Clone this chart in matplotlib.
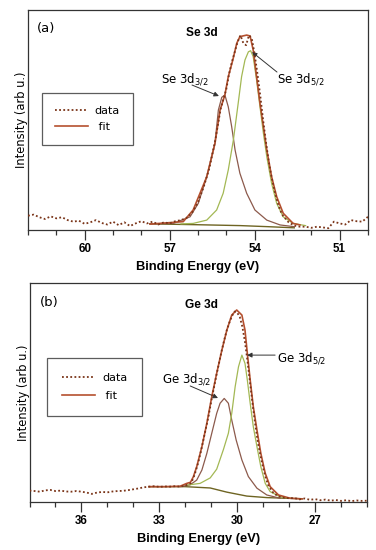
import numpy as np
import matplotlib
matplotlib.use('Agg')
import matplotlib.pyplot as plt
from matplotlib.ticker import MultipleLocator

# ---------------- panel (a) : Se 3d ----------------
se_data_x = [62.0, 61.8, 61.6, 61.4, 61.2, 61.0, 60.8, 60.6, 60.4, 60.2, 60.0, 59.8, 59.6, 59.4,
             59.2, 59.0, 58.8, 58.6, 58.4, 58.2, 58.0, 57.8, 57.6, 57.4, 57.2, 57.0, 56.8, 56.6,
             56.4, 56.2, 56.0, 55.8, 55.6, 55.4, 55.2, 55.0, 54.9, 54.8, 54.7, 54.6, 54.5, 54.4,
             54.3, 54.2, 54.1, 54.0, 53.9, 53.8, 53.7, 53.6, 53.5, 53.4, 53.3, 53.2, 53.1, 53.0,
             52.8, 52.6, 52.4, 52.2, 52.0, 51.8, 51.6, 51.4, 51.2, 51.0, 50.8, 50.6, 50.4, 50.2, 50.0]
se_data_y = [6.5, 7.0, 5.8, 5.0, 6.2, 5.3, 5.8, 4.5, 3.8, 4.2, 2.8, 3.5, 4.5, 3.2,
             2.5, 3.8, 2.2, 3.5, 1.8, 3.0, 4.0, 3.0, 3.8, 2.5, 3.5, 3.0, 4.0, 4.5,
             5.5, 8.0, 12.5, 19.5, 28.0, 40.0, 55.0, 64.0, 71.0, 76.5, 81.0, 85.5, 88.5, 85.0,
             84.0, 88.5, 87.0, 80.0, 71.0, 61.0, 50.0, 40.0, 31.0, 24.0, 18.0, 13.0, 9.0, 6.5,
             3.5, 2.0, 1.5, 1.5, 1.0, 1.5, 1.2, 0.8, 3.8, 3.0, 2.5, 4.5, 4.0, 3.8, 6.0]

se_fit_x = [57.69, 56.52, 56.17, 55.69, 55.40, 55.22, 55.05, 54.93, 54.77, 54.63, 54.52, 54.28,
            54.16, 54.05, 53.93, 53.81, 53.69, 53.57, 53.40, 53.22, 52.99, 52.64, 52.40]
se_fit_y = [2.7, 3.8, 9.1, 24.2, 39.4, 54.5, 61.4, 69.7, 77.3, 84.9, 87.9, 88.6,
            88.2, 81.8, 69.7, 57.6, 47.0, 36.4, 24.2, 15.1, 7.6, 3.0, 2.3]

se32_x = [57.7, 56.87, 56.28, 55.99, 55.69, 55.40, 55.28, 55.16, 55.05, 54.93, 54.81, 54.69,
          54.52, 54.28, 53.99, 53.57, 53.10, 52.6]
se32_y = [2.8, 3.0, 6.0, 12.1, 24.2, 39.4, 54.5, 60.3, 61.4, 56.0, 47.0, 36.4,
          25.8, 16.7, 9.1, 4.5, 2.3, 1.5]

se52_x = [56.6, 56.17, 55.69, 55.34, 55.11, 54.93, 54.75, 54.58, 54.46, 54.34, 54.22, 54.14,
          54.05, 53.93, 53.81, 53.69, 53.57, 53.40, 53.22, 52.99, 52.64, 52.2]
se52_y = [2.8, 3.0, 4.5, 9.1, 16.7, 27.3, 40.9, 57.6, 69.7, 77.3, 81.0, 81.5,
          78.8, 68.2, 56.0, 44.0, 33.3, 21.2, 12.1, 6.0, 3.0, 2.0]

se_bg_x = [57.7, 56.0, 54.5, 53.5, 52.6]
se_bg_y = [2.8, 2.4, 2.0, 1.5, 1.0]

# ---------------- panel (b) : Ge 3d ----------------
ge_data_x = [38.0, 37.8, 37.6, 37.4, 37.2, 37.0, 36.8, 36.6, 36.4, 36.2, 36.0, 35.8, 35.6, 35.4,
             35.2, 35.0, 34.8, 34.6, 34.4, 34.2, 34.0, 33.8, 33.6, 33.4, 33.2, 33.0, 32.8, 32.6,
             32.4, 32.2, 32.0, 31.8, 31.7, 31.6, 31.5, 31.4, 31.3, 31.2, 31.1, 31.0, 30.9, 30.8,
             30.7, 30.6, 30.5, 30.4, 30.3, 30.2, 30.1, 30.0, 29.9, 29.8, 29.7, 29.6, 29.5, 29.4,
             29.3, 29.2, 29.1, 29.0, 28.9, 28.8, 28.6, 28.4, 28.2, 28.0, 27.8, 27.6, 27.4, 27.2,
             27.0, 26.8, 26.6, 26.4, 26.2, 26.0, 25.8, 25.6, 25.4, 25.2, 25.0]
ge_data_y = [5.2, 5.0, 4.7, 5.3, 5.5, 5.0, 5.2, 4.8, 4.7, 5.0, 4.7, 4.3, 3.7, 4.3,
             4.6, 4.4, 4.8, 5.0, 5.1, 5.4, 5.8, 6.2, 6.7, 7.0, 7.2, 6.9, 7.1, 7.0,
             7.2, 7.0, 7.5, 8.5, 10.5, 14.0, 18.0, 23.0, 28.5, 34.0, 39.5, 46.0, 52.0, 58.0,
             63.5, 69.0, 74.0, 78.5, 82.0, 85.0, 87.0, 86.5, 84.5, 80.0, 73.0, 64.0, 54.0, 44.0,
             35.0, 27.0, 21.0, 15.5, 11.0, 7.5, 4.0, 2.5, 2.0, 1.7, 1.8, 1.2, 1.6, 1.0,
             1.3, 0.8, 1.1, 0.6, 0.9, 0.5, 0.8, 0.4, 0.7, 0.5, 0.6]

ge_fit_x = [33.4, 32.8, 32.2, 31.94, 31.8, 31.69, 31.56, 31.36, 31.17, 30.98, 30.79, 30.59,
            30.40, 30.21, 30.02, 29.82, 29.70, 29.61, 29.50, 29.38, 29.24, 29.09, 28.92, 28.73,
            28.41, 27.96, 27.5]
ge_fit_y = [7.0, 7.0, 7.2, 8.5, 9.0, 11.5, 16.1, 25.3, 35.9, 48.1, 58.8, 69.4,
            78.5, 85.4, 87.7, 85.4, 78.5, 67.9, 55.7, 43.5, 32.9, 22.2, 13.1, 7.0,
            3.2, 1.7, 1.4]

ge32_x = [32.2, 31.82, 31.56, 31.36, 31.17, 30.98, 30.79, 30.66, 30.50, 30.34, 30.21, 30.04,
          29.82, 29.57, 29.24, 28.86, 28.35]
ge32_y = [7.0, 7.8, 10.0, 14.6, 22.2, 31.4, 40.5, 45.1, 47.3, 45.1, 37.4, 28.3,
          19.2, 11.6, 6.3, 3.2, 1.7]

ge52_x = [31.94, 31.43, 31.04, 30.79, 30.53, 30.34, 30.21, 30.08, 29.95, 29.82, 29.70, 29.61,
          29.50, 29.38, 29.24, 29.09, 28.92, 28.73, 28.35, 27.96]
ge52_y = [7.7, 8.5, 11.0, 15.0, 24.0, 31.4, 40.5, 52.6, 61.8, 67.1, 63.3, 55.7,
          45.1, 34.4, 25.3, 16.1, 8.5, 4.7, 2.4, 1.7]

ge_bg_x = [33.4, 32.0, 31.04, 30.40, 29.63, 28.86, 28.09, 27.5]
ge_bg_y = [7.0, 7.0, 6.4, 4.5, 2.7, 2.0, 1.7, 1.5]

c_data = '#7a3418'
c_fit = '#b5502f'
c_32 = '#8c5a4c'
c_52 = '#a3b854'
c_bg = '#6e6422'

tickfont = 'Liberation Sans'

fig = plt.figure(figsize=(3.76, 5.5), dpi=100)
ax1 = fig.add_axes([0.0745, 0.5818, 0.904, 0.4])
ax2 = fig.add_axes([0.0785, 0.0873, 0.8976, 0.398])


def draw(ax, dx, dy, fx, fy, ax32, ay32, ax52, ay52, bx, by, xlim, legbox, lspace, bpad):
    ax.plot(bx, by, color=c_bg, lw=1.0)
    ax.plot(ax32, ay32, color=c_32, lw=0.9)
    ax.plot(ax52, ay52, color=c_52, lw=0.9)
    ax.plot(fx, fy, color=c_fit, lw=1.2, label=' fit', zorder=3)
    ax.plot(dx, dy, color=c_data, lw=1.3, linestyle=(0, (1, 1.3)), label='data', zorder=4)
    ax.set_xlim(xlim)
    ax.set_ylim(0, 100)
    ax.set_yticks([])
    ax.xaxis.set_major_locator(MultipleLocator(3))
    ax.xaxis.set_minor_locator(MultipleLocator(1))
    ax.tick_params(axis='x', which='major', length=7, width=0.9, pad=2.5, labelsize=8.3, color='#333333')
    ax.tick_params(axis='x', which='minor', length=3.6, width=0.9, color='#333333')
    for lab in ax.get_xticklabels():
        lab.set_fontweight('bold')
        lab.set_family(tickfont)
    for sp in ax.spines.values():
        sp.set_color('#333333')
        sp.set_linewidth(0.9)
    ax.set_xlabel('Binding Energy (eV)', fontsize=9.3, fontweight='bold', family=tickfont, labelpad=4)
    ax.set_ylabel('Intensity (arb u.)', fontsize=8.3, labelpad=0)
    h, l = ax.get_legend_handles_labels()
    leg = ax.legend(h[::-1], l[::-1], loc='upper left', bbox_to_anchor=legbox, borderaxespad=0,
                    fontsize=8, frameon=True, fancybox=False, edgecolor='#333333',
                    handlelength=3.0, handletextpad=0.6, borderpad=bpad, labelspacing=lspace)
    leg.get_frame().set_linewidth(0.9)


draw(ax1, se_data_x, se_data_y, se_fit_x, se_fit_y, se32_x, se32_y, se52_x, se52_y,
     se_bg_x, se_bg_y, (62, 50), (0.041, 0.623), 0.55, 1.15)
draw(ax2, ge_data_x, ge_data_y, ge_fit_x, ge_fit_y, ge32_x, ge32_y, ge52_x, ge52_y,
     ge_bg_x, ge_bg_y, (38, 25), (0.052, 0.658), 0.75, 1.35)

arrow = dict(arrowstyle='-|>', color='#333333', lw=0.7, mutation_scale=7, shrinkA=0, shrinkB=0)

# panel (a) labels
ax1.text(61.68, 91.5, '(a)', fontsize=9.5, va='center')
ax1.text(55.86, 89.5, 'Se 3d', fontsize=8.6, fontweight='bold', family=tickfont, ha='center', va='center')
ax1.text(57.3, 68.5, 'Se 3d$_{3/2}$', fontsize=8.5, va='center')
ax1.annotate('', xy=(55.26, 60.9), xytext=(56.21, 65.9), arrowprops=arrow)
ax1.text(53.2, 68.5, 'Se 3d$_{5/2}$', fontsize=8.5, va='center')
ax1.annotate('', xy=(54.09, 80.9), xytext=(53.21, 71.8), arrowprops=arrow)

# panel (b) labels
ax2.text(37.6, 91.3, '(b)', fontsize=9.5, va='center')
ax2.text(31.37, 90.0, 'Ge 3d', fontsize=8.6, fontweight='bold', family=tickfont, ha='center', va='center')
ax2.text(28.46, 65.5, 'Ge 3d$_{5/2}$', fontsize=8.5, va='center')
ax2.annotate('', xy=(29.62, 67.1), xytext=(28.54, 67.1), arrowprops=arrow)
ax2.text(32.89, 56.0, 'Ge 3d$_{3/2}$', fontsize=8.5, va='center')
ax2.annotate('', xy=(30.74, 47.5), xytext=(31.81, 53.0), arrowprops=arrow)

fig.savefig('out.png', dpi=100)
